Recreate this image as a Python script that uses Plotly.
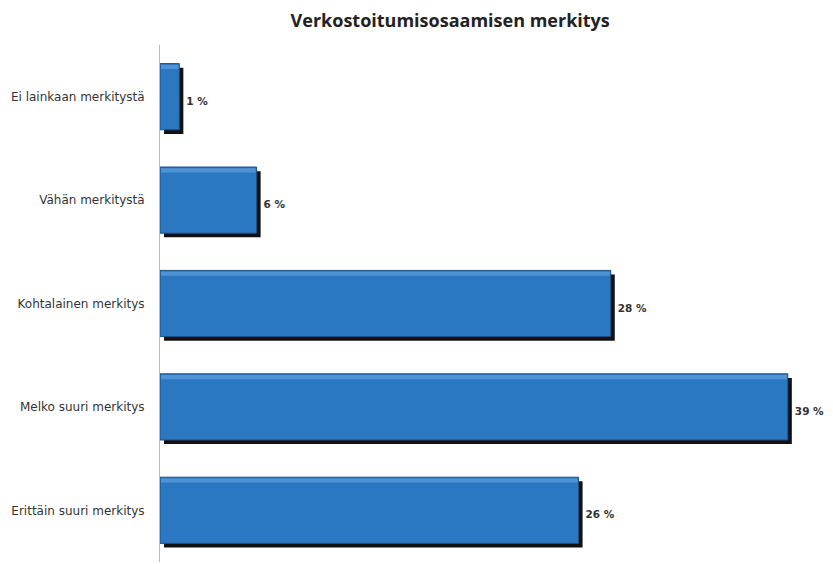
import plotly.graph_objects as go

categories = ["Ei lainkaan merkitystä", "Vähän merkitystä", "Kohtalainen merkitys",
              "Melko suuri merkitys", "Erittäin suuri merkitys"]
values = [1.2, 6, 28, 39, 26]
labels = ["1 %", "6 %", "28 %", "39 %", "26 %"]
title = "Verkostoitumisosaamisen merkitys"

FONT = "DejaVu Sans, Verdana, sans-serif"
W = 0.64
fig = go.Figure()
# shadow (carries the value labels)
fig.add_trace(go.Bar(
    y=categories, x=values, base=0.25, orientation="h",
    width=W, offset=-W / 2 + 0.04,
    marker=dict(color="#111111", line=dict(width=0)),
    text=labels, textposition="outside", cliponaxis=False,
    textfont=dict(family=FONT, size=10.5, color="#333333", weight="bold"),
    hoverinfo="skip", showlegend=False,
))
# main bar
fig.add_trace(go.Bar(
    y=categories, x=values, orientation="h",
    width=W, offset=-W / 2,
    marker=dict(color="#2b78c2", line=dict(color="#1d4f86", width=1)),
    hoverinfo="skip", showlegend=False,
))
# subtle highlight near top edge
fig.add_trace(go.Bar(
    y=categories, x=[v - 0.12 for v in values], base=0.06, orientation="h",
    width=0.04, offset=-W / 2 + 0.012,
    marker=dict(color="#4f93d4", line=dict(width=0)),
    hoverinfo="skip", showlegend=False,
))

fig.update_layout(
    width=825, height=556,
    margin=dict(l=152, r=13, t=37, b=2),
    barmode="overlay",
    plot_bgcolor="white", paper_bgcolor="white",
    title=dict(text=title, x=0.536, xanchor="center", y=0.977, yanchor="middle",
               font=dict(family="Open Sans, sans-serif", size=18, color="#222222", weight="bold")),
)
fig.update_xaxes(range=[0, 41], visible=False, showgrid=False, zeroline=False)
fig.update_yaxes(range=[4.5, -0.5], autorange=False, automargin=False,
                 showgrid=False, zeroline=False,
                 showline=True, linecolor="#bbbbbb", linewidth=1,
                 ticks="", ticklabelstandoff=12,
                 tickfont=dict(family=FONT, size=12, color="#333333"))
fig.write_html("out.html")
